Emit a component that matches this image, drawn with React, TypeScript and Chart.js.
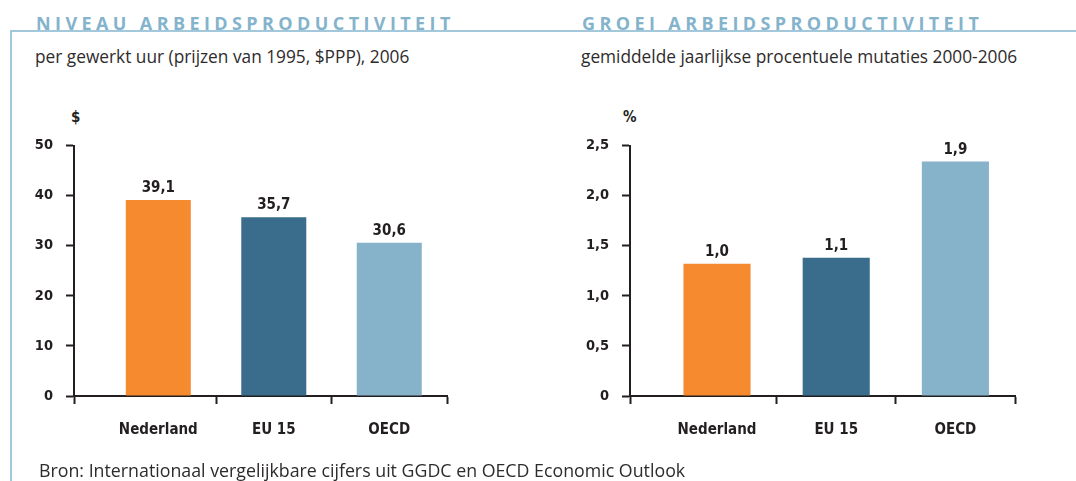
import React, { useEffect, useRef } from 'react';
import { Chart, registerables } from 'chart.js';

Chart.register(...registerables);

// ---- data ----
const categories = ['Nederland', 'EU 15', 'OECD'];
const levelValues = [39.1, 35.7, 30.6];
const levelLabels = ['39,1', '35,7', '30,6'];
const levelTickValues = [0, 10, 20, 30, 40, 50];
const levelTickLabels = ['0', '10', '20', '30', '40', '50'];
const growthBarValues = [1.32, 1.38, 2.34];
const growthLabels = ['1,0', '1,1', '1,9'];
const growthTickValues = [0, 0.5, 1.0, 1.5, 2.0, 2.5];
const growthTickLabels = ['0', '0,5', '1,0', '1,5', '2,0', '2,5'];
const barColors = ['#F58A2E', '#3A6D8C', '#86B2CA'];

const AXIS = '#231F20';
const NARROW = "'DejaVu Sans Condensed', 'Liberation Sans Narrow', sans-serif";
const SANS = "'Open Sans', 'Noto Sans', sans-serif";
const TITLE_COLOR = '#84B3CC';

// x positions: category index; axis extends left of the first category
const X_MIN = -0.73;
const X_MAX = 2.5;
const xTickValues = [X_MIN, 0, 0.5, 1, 1.5, 2, 2.5];

function makeConfig(values: number[], labels: string[], tickValues: number[], tickLabels: string[], yMax: number, yWidth: number, padRight: number): any {
  const valueLabelPlugin = {
    id: 'valueLabels',
    afterDatasetsDraw(chart: any) {
      const meta = chart.getDatasetMeta(0);
      const ctx = chart.ctx;
      ctx.save();
      ctx.font = `bold 15px ${NARROW}`;
      ctx.fillStyle = AXIS;
      ctx.textAlign = 'center';
      ctx.textBaseline = 'alphabetic';
      meta.data.forEach((bar: any, i: number) => {
        ctx.fillText(labels[i], bar.x, bar.y - 8);
      });
      ctx.restore();
    },
  };
  return {
    type: 'bar',
    data: {
      datasets: [
        {
          data: values.map((v, i) => ({ x: i, y: v })),
          backgroundColor: barColors,
          borderWidth: 0,
          categoryPercentage: 1,
          barPercentage: 1.126,
        },
      ],
    },
    plugins: [valueLabelPlugin],
    options: {
      animation: false,
      responsive: false,
      events: [],
      layout: { padding: { top: 45.5, left: 0, right: padRight, bottom: 35 } },
      plugins: { legend: { display: false }, tooltip: { enabled: false }, title: { display: false } },
      scales: {
        x: {
          type: 'linear',
          min: X_MIN,
          max: X_MAX,
          offset: false,
          afterBuildTicks: (s: any) => {
            s.ticks = xTickValues.map((v) => ({ value: v }));
          },
          afterFit: (s: any) => {
            s.height = 50;
          },
          ticks: {
            autoSkip: false,
            maxRotation: 0,
            padding: 17,
            color: AXIS,
            font: { family: NARROW, size: 15, weight: 'bold' },
            callback: (v: number) => (Number.isInteger(v) ? categories[v] : ''),
          },
          grid: {
            offset: false,
            drawOnChartArea: false,
            drawTicks: true,
            tickLength: 8,
            tickWidth: 2,
            tickColor: (c: any) => (c.tick && Number.isInteger(c.tick.value) ? 'rgba(0,0,0,0)' : AXIS),
          },
          border: { display: true, color: AXIS, width: 2 },
        },
        y: {
          type: 'linear',
          min: 0,
          max: yMax,
          afterBuildTicks: (s: any) => {
            s.ticks = tickValues.map((v) => ({ value: v }));
          },
          afterFit: (s: any) => {
            s.width = yWidth;
          },
          ticks: {
            autoSkip: false,
            padding: 13,
            color: AXIS,
            font: { family: NARROW, size: 14.5, weight: 'bold' },
            callback: (_v: number, i: number) => tickLabels[i],
          },
          grid: {
            drawOnChartArea: false,
            drawTicks: true,
            tickLength: 8,
            tickWidth: 2,
            tickColor: AXIS,
          },
          border: { display: true, color: AXIS, width: 2 },
        },
      },
    },
  };
}

function BarPanel(props: { left: number; width: number; config: any }) {
  const ref = useRef<HTMLCanvasElement | null>(null);
  useEffect(() => {
    if (!ref.current) return;
    const chart = new Chart(ref.current, props.config);
    return () => chart.destroy();
  }, []);
  return (
    <canvas
      ref={ref}
      width={props.width}
      height={381}
      style={{ position: 'absolute', left: props.left, top: 100, width: props.width, height: 381 }}
    />
  );
}

const titleStyle: React.CSSProperties = {
  position: 'absolute',
  top: 14,
  fontFamily: SANS,
  fontWeight: 700,
  fontSize: 18,
  lineHeight: '18px',
  letterSpacing: 4.4,
  color: TITLE_COLOR,
  whiteSpace: 'nowrap',
};

const subStyle: React.CSSProperties = {
  position: 'absolute',
  top: 48,
  fontFamily: SANS,
  fontSize: 17.3,
  lineHeight: '17px',
  color: '#2E2B2C',
  whiteSpace: 'nowrap',
};

const unitStyle: React.CSSProperties = {
  position: 'absolute',
  top: 109,
  fontFamily: NARROW,
  fontWeight: 'bold',
  fontSize: 15,
  lineHeight: '16px',
  color: AXIS,
};

export default function App() {
  const leftConfig = makeConfig(levelValues, levelLabels, levelTickValues, levelTickLabels, 50, 74, 93);
  const rightConfig = makeConfig(growthBarValues, growthLabels, growthTickValues, growthTickLabels, 2.5, 90, 61);
  return (
    <div style={{ position: 'absolute', left: 0, top: 0, width: 1076, height: 481, overflow: 'hidden', background: '#fff' }}>
      <div
        style={{
          position: 'absolute',
          left: 10,
          top: 30,
          width: 1066,
          height: 460,
          borderTop: '2px solid #A3C8DB',
          borderLeft: '2px solid #A3C8DB',
        }}
      />
      <div style={{ ...titleStyle, left: 36 }}>NIVEAU ARBEIDSPRODUCTIVITEIT</div>
      <div style={{ ...titleStyle, left: 582 }}>GROEI ARBEIDSPRODUCTIVITEIT</div>
      <div style={{ ...subStyle, left: 35 }}>per gewerkt uur (prijzen van 1995, $PPP), 2006</div>
      <div style={{ ...subStyle, left: 581 }}>gemiddelde jaarlijkse procentuele mutaties 2000-2006</div>
      <div style={{ ...unitStyle, left: 71 }}>$</div>
      <div style={{ ...unitStyle, left: 623 }}>%</div>
      <BarPanel left={0} width={540} config={leftConfig} />
      <BarPanel left={540} width={536} config={rightConfig} />
      <div style={{ ...subStyle, top: 462, left: 39, fontSize: 17.8 }}>
        Bron: Internationaal vergelijkbare cijfers uit GGDC en OECD Economic Outlook
      </div>
    </div>
  );
}
